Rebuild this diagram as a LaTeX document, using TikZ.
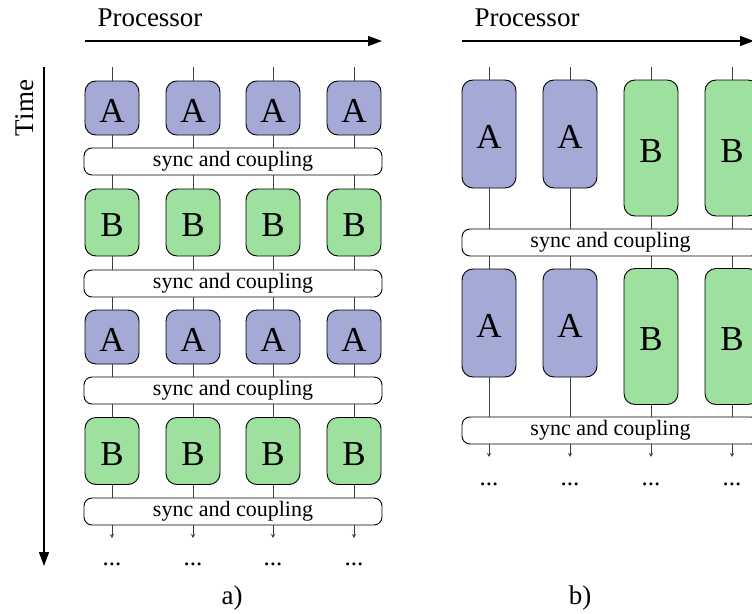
\documentclass[tikz,border=0pt]{standalone}
\usepackage{fontspec}
\setmainfont{Liberation Serif}
\usetikzlibrary{arrows.meta}
\definecolor{fillA}{HTML}{A4A9D5}
\definecolor{fillB}{HTML}{9EE19E}
\definecolor{lineg}{HTML}{404040}
\begin{document}
\begin{tikzpicture}[x=1pt,y=-1pt,
 pbox/.style={draw=black, line width=0.9pt, rounded corners=11pt, minimum width=54pt, inner sep=0pt, text height=28pt, text depth=0pt, font=\fontsize{35}{35}\selectfont},
 boxA/.style={pbox, fill=fillA},
 boxB/.style={pbox, fill=fillB},
 syncbox/.style={draw=black, line width=0.9pt, rounded corners=8pt, fill=white, minimum height=27pt, inner sep=0pt, font=\fontsize{22}{22}\selectfont},
 link/.style={draw=lineg, line width=0.8pt},
 cont/.style={link, -{Stealth[length=4pt,width=4pt]}},
 axis/.style={line width=1.3pt, -{Triangle[length=14pt,width=10pt]}},
 lbl/.style={font=\fontsize{27}{27}\selectfont},
 dotsl/.style={font=\fontsize{25}{25}\selectfont, anchor=base}
]
\useasboundingbox (0,0) rectangle (752,613);

% ---------- panel a ----------
\node[lbl, anchor=base] (procA) at (150,27) {Processor};
\coordinate (pAs) at (85,41);
\coordinate (pAe) at (382,41);
\draw[axis] (pAs) -- (pAe);
\node[lbl, rotate=90, anchor=base] (time) at (33,108) {Time};
\coordinate (tS) at (44,67);
\coordinate (tE) at (44,566);
\draw[axis] (tS) -- (tE);

\node[syncbox, minimum width=298pt] (LS1) at (233,161.5) {sync and coupling};
\node[syncbox, minimum width=298pt] (LS2) at (233,283.5) {sync and coupling};
\node[syncbox, minimum width=298pt] (LS3) at (233,390.5) {sync and coupling};
\node[syncbox, minimum width=298pt] (LS4) at (233,511.5) {sync and coupling};

\foreach \c/\x in {1/112,2/193,3/273,4/354} {
  \node[boxA, minimum height=54pt] (LA1\c) at (\x,108) {A};
  \node[boxB, minimum height=67pt] (LB1\c) at (\x,222.5) {B};
  \node[boxA, minimum height=54pt] (LA2\c) at (\x,337) {A};
  \node[boxB, minimum height=67pt] (LB2\c) at (\x,451) {B};
  \coordinate (LT\c) at (\x,67);
  \coordinate (LE\c) at (\x,538);
  \node[dotsl] (LD\c) at (\x,565) {...};
  \draw[link] (LT\c) -- (LA1\c.north);
  \draw[link] (LA1\c.south) -- (LA1\c.south |- LS1.north);
  \draw[link] (LB1\c.north |- LS1.south) -- (LB1\c.north);
  \draw[link] (LB1\c.south) -- (LB1\c.south |- LS2.north);
  \draw[link] (LA2\c.north |- LS2.south) -- (LA2\c.north);
  \draw[link] (LA2\c.south) -- (LA2\c.south |- LS3.north);
  \draw[link] (LB2\c.north |- LS3.south) -- (LB2\c.north);
  \draw[link] (LB2\c.south) -- (LB2\c.south |- LS4.north);
  \draw[cont] (LE\c |- LS4.south) -- (LE\c);
}
\node[lbl] (capA) at (232,598) {a)};

% ---------- panel b ----------
\node[lbl, anchor=base] (procB) at (527,27) {Processor};
\coordinate (pBs) at (462,41);
\coordinate (pBe) at (754,41);
\draw[axis] (pBs) -- (pBe);

\node[syncbox, minimum width=297pt] (RS1) at (610.5,242.5) {sync and coupling};
\node[syncbox, minimum width=297pt] (RS2) at (610.5,430.5) {sync and coupling};

\foreach \c/\x in {1/489,2/570} {
  \node[boxA, minimum height=108pt] (R1\c) at (\x,134) {A};
  \node[boxA, minimum height=108pt] (R2\c) at (\x,323) {A};
}
\foreach \c/\x in {3/651,4/732} {
  \node[boxB, minimum height=136pt] (R1\c) at (\x,148) {B};
  \node[boxB, minimum height=136pt] (R2\c) at (\x,336.5) {B};
}
\foreach \c/\x in {1/489,2/570,3/651,4/732} {
  \coordinate (RT\c) at (\x,67);
  \coordinate (RE\c) at (\x,457);
  \node[dotsl] (RD\c) at (\x,485) {...};
  \draw[link] (RT\c) -- (R1\c.north);
  \draw[link] (R1\c.south) -- (R1\c.south |- RS1.north);
  \draw[link] (R2\c.north |- RS1.south) -- (R2\c.north);
  \draw[link] (R2\c.south) -- (R2\c.south |- RS2.north);
  \draw[cont] (RE\c |- RS2.south) -- (RE\c);
}
\node[lbl] (capB) at (580,598) {b)};
\end{tikzpicture}
\end{document}
